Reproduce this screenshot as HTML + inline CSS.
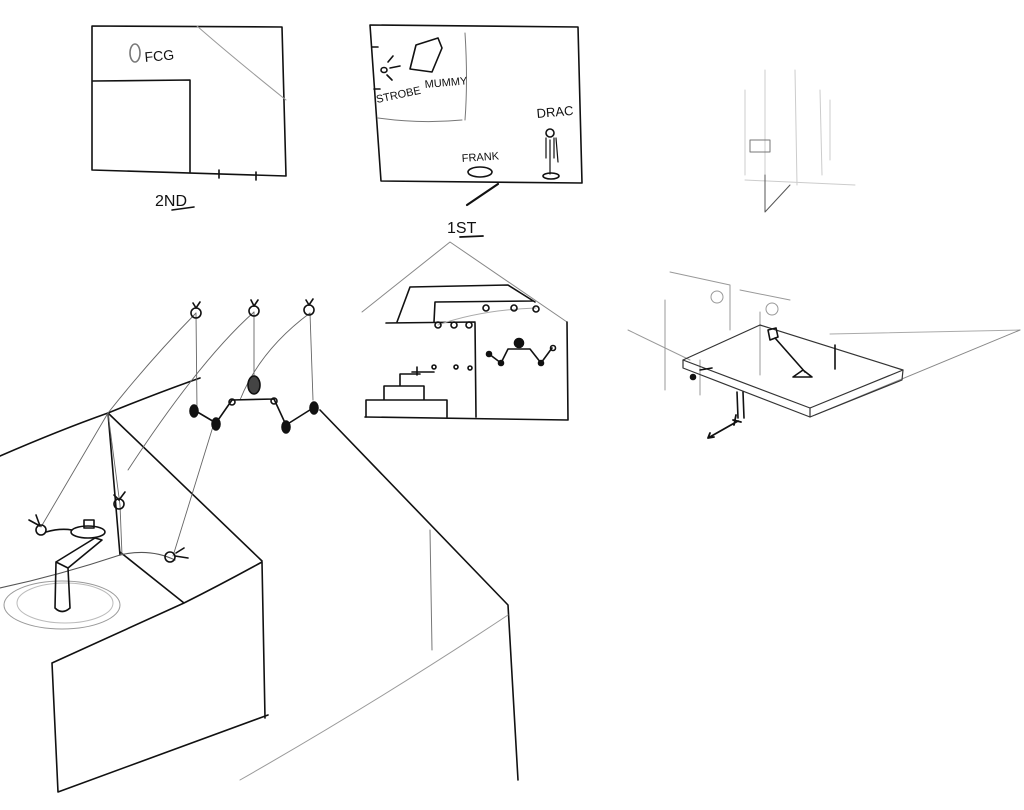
<!DOCTYPE html>
<html><head><meta charset="utf-8"><style>
html,body{margin:0;padding:0;background:#fff}
svg{display:block}
text{font-family:"Liberation Sans",sans-serif;fill:#111}
</style></head><body>
<svg width="1024" height="810" viewBox="0 0 1024 810" xmlns="http://www.w3.org/2000/svg">
<g fill="none" stroke="#111" stroke-width="1.6" stroke-linecap="round" stroke-linejoin="round">
<!-- 2ND box -->
<path d="M92,26 L282,27 L286,176 L92,170 Z"/>
<path d="M93,81 L190,80 L190,172"/>
<path d="M197,26 Q230,55 286,100" stroke="#999" stroke-width="1"/>
<ellipse cx="135" cy="53" rx="5" ry="9" stroke="#777"/>
<path d="M219,170 v8 M256,172 v8"/>
<path d="M172,210 L194,207"/>
<!-- 1ST box -->
<path d="M370,25 L578,27 L582,183 L381,181 Z"/>
<path d="M372,47 h6 M374,89 h6"/>
<path d="M465,33 Q468,80 465,120 M378,118 Q420,124 462,120" stroke="#777" stroke-width="1"/>
<path d="M410,69 L416,45 L438,38 L442,48 L432,72 Z"/>
<ellipse cx="384" cy="70" rx="3" ry="2.5"/>
<path d="M388,62 L393,56 M390,68 L400,66 M387,75 L392,80"/>
<ellipse cx="480" cy="172" rx="12" ry="5"/>
<ellipse cx="551" cy="176" rx="8" ry="3"/>
<circle cx="550" cy="133" r="4"/>
<path d="M546,138 L546,158 M554,138 L554,158 M550,140 L550,174 M556,138 L558,162" stroke-width="1.2"/>
<path d="M467,205 L498,184" stroke-width="2.2"/>
<path d="M460,237 L483,236" stroke-width="1.8"/>
<!-- 1st floor sketch -->
<path d="M362,312 L450,242 L567,322" stroke="#888" stroke-width="1"/>
<path d="M567,322 L568,420 M365,417 L568,420 M475,323 L476,417 M386,323 L475,322"/>
<path d="M397,322 L410,287 L508,285 L535,302 M434,322 L435,302 L533,301"/>
<path d="M438,325 Q480,310 536,308" stroke="#aaa" stroke-width="1"/>
<circle cx="438" cy="325" r="3"/><circle cx="454" cy="325" r="3"/><circle cx="469" cy="325" r="3"/>
<circle cx="486" cy="308" r="3"/><circle cx="514" cy="308" r="3"/><circle cx="536" cy="309" r="3"/>
<path d="M366,417 L366,400 L447,400 L447,417 M384,400 L384,386 L424,386 L424,400 M400,386 L400,374 L420,374"/>
<path d="M417,367 v8 M412,372 h22"/>
<circle cx="434" cy="367" r="2"/><circle cx="456" cy="367" r="2"/><circle cx="470" cy="368" r="2"/>
<path d="M489,354 L501,363 L508,349 L530,349 L541,363 L552,348"/>
<circle cx="519" cy="343" r="4.5" fill="#111"/>
<circle cx="489" cy="354" r="2.5" fill="#111"/><circle cx="501" cy="363" r="2.5" fill="#111"/>
<circle cx="541" cy="363" r="2.5" fill="#111"/><circle cx="553" cy="348" r="2.5"/>
<!-- faint top right -->
<g stroke="#ccc" stroke-width="1">
<path d="M745,90 L745,175 M765,70 L765,175 M820,90 L822,175 M745,180 L855,185 M795,70 L797,185 M830,100 v60"/>
<path d="M765,175 L765,212 M765,212 L790,185" stroke="#555"/>
<rect x="750" y="140" width="20" height="12" stroke="#777"/>
</g>
<!-- right table sketch -->
<g stroke="#999" stroke-width="1">
<path d="M628,330 L690,360 M670,272 L730,285 L730,330 M665,300 L665,390 M700,360 L700,395 M740,290 L790,300 M760,312 L760,375"/>
<circle cx="717" cy="297" r="6"/><circle cx="772" cy="309" r="6"/>
<path d="M830,334 L1020,330" stroke="#aaa"/>
<path d="M815,415 L1020,330" stroke="#888"/>
</g>
<path d="M683,360 L760,325 L903,370 L902,380 L810,417 L683,368 Z" stroke="#333" stroke-width="1.2"/>
<path d="M810,408 L810,417 M683,360 L810,408 L903,370" stroke="#333" stroke-width="1.2"/>
<path d="M768,330 L776,328 L778,337 L770,340 Z M793,377 L803,370 L812,377 Z M775,338 L805,372"/>
<circle cx="693" cy="377" r="2.5" fill="#111"/>
<path d="M700,370 L712,368"/>
<path d="M737,392 L738,418 M743,392 L744,418 M835,345 v24"/>
<path d="M708,438 L738,421 M708,438 l6,-1 M708,438 l2,-5 M733,420 l8,2 M736,415 l-2,10" stroke-width="1.8"/>
<!-- big left sketch -->
<path d="M0,456 Q60,430 108,413 Q160,392 200,378"/>
<path d="M108,413 L262,561 M108,413 L120,555"/>
<path d="M262,562 Q220,585 184,603 L52,663 M52,663 L58,792 L268,715 M262,562 L265,718 M120,552 L184,603"/>
<path d="M320,410 L508,605 L518,780"/>
<path d="M508,615 Q380,700 240,780" stroke="#999" stroke-width="1"/>
<path d="M0,588 Q60,575 120,555 Q150,548 175,560" stroke="#555" stroke-width="1.1"/>
<path d="M430,530 L432,650" stroke="#777" stroke-width="1"/>
<ellipse cx="62" cy="605" rx="58" ry="24" stroke="#999" stroke-width="1"/>
<ellipse cx="65" cy="603" rx="48" ry="20" stroke="#bbb" stroke-width="1"/>
<!-- strings -->
<g stroke="#666" stroke-width="0.9">
<path d="M196,313 L197,410 M254,312 L254,378 M310,313 L313,400"/>
<path d="M196,313 Q150,360 108,413 M254,312 Q200,360 128,470 M310,313 Q260,350 240,400"/>
<path d="M41,527 L108,413 M120,505 L108,413 M173,556 L215,420 M120,505 L122,555"/>
</g>
<circle cx="196" cy="313" r="5"/><circle cx="254" cy="311" r="5"/><circle cx="309" cy="310" r="5"/>
<path d="M193,303 L196,308 L200,302 M251,300 L254,306 L258,300 M306,300 L309,305 L313,299"/>
<ellipse cx="254" cy="385" rx="6" ry="9" fill="#444"/>
<path d="M232,400 L274,399 M232,400 L216,423 L194,410 M274,399 L286,425 L313,408"/>
<ellipse cx="194" cy="411" rx="4" ry="6" fill="#111"/><ellipse cx="216" cy="424" rx="4" ry="6" fill="#111"/>
<ellipse cx="286" cy="427" rx="4" ry="6" fill="#111"/><ellipse cx="314" cy="408" rx="4" ry="6" fill="#111"/>
<circle cx="232" cy="402" r="3"/><circle cx="274" cy="401" r="3"/>
<!-- left marionettes -->
<circle cx="41" cy="530" r="5"/><path d="M29,520 L40,526 L36,515"/>
<circle cx="119" cy="504" r="5"/><path d="M114,495 L119,500 L125,492"/>
<circle cx="170" cy="557" r="5"/><path d="M175,556 L188,558 M176,553 L184,548"/>
<path d="M46,532 Q60,528 72,530"/>
<ellipse cx="88" cy="532" rx="17" ry="6"/>
<rect x="84" y="520" width="10" height="8"/>
<path d="M56,562 L95,538 L102,540 L68,568 L56,562 M68,568 L70,608 M56,562 L55,608 M55,608 Q62,615 70,608"/>
</g>
<text x="145" y="62" font-size="14" transform="rotate(-5 145 62)">FCG</text>
<text x="155" y="206" font-size="16">2ND</text>
<text x="377" y="103" font-size="11" transform="rotate(-12 377 103)">STROBE</text>
<text x="425" y="88" font-size="11" transform="rotate(-5 425 88)">MUMMY</text>
<text x="537" y="118" font-size="13" transform="rotate(-5 537 118)">DRAC</text>
<text x="462" y="162" font-size="11" transform="rotate(-4 462 162)">FRANK</text>
<text x="447" y="233" font-size="16">1ST</text>
</svg>
</body></html>
